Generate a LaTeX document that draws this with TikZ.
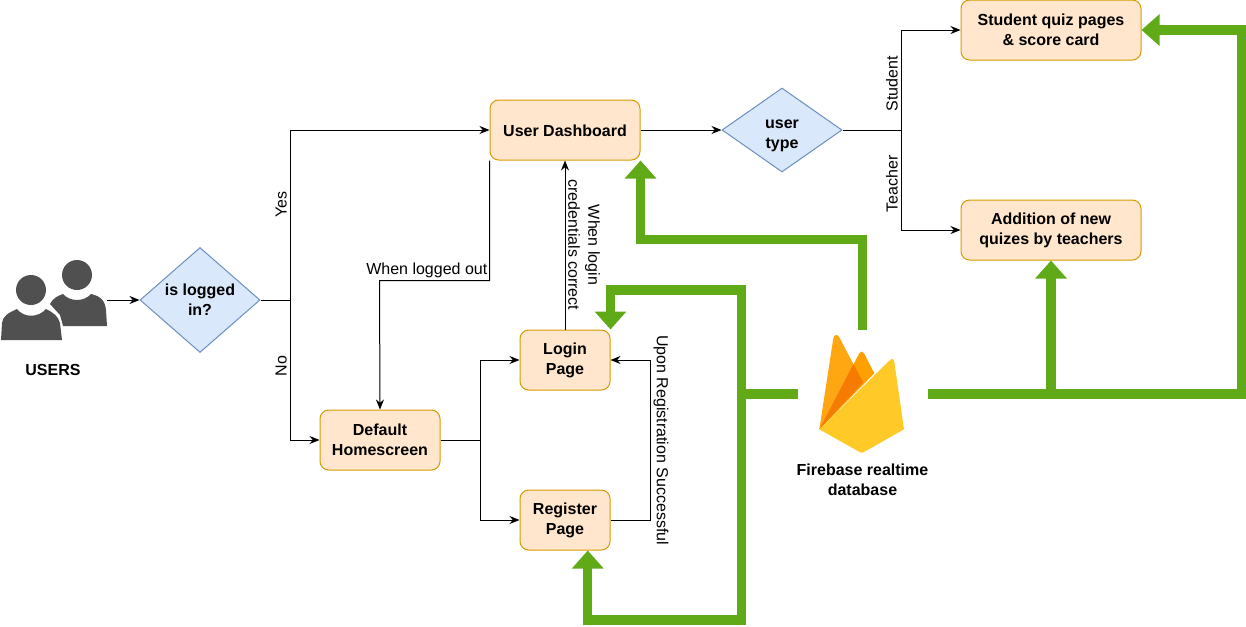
\documentclass[tikz,border=0pt]{standalone}
\usepackage{fontspec}
\setmainfont{Liberation Sans}
\usetikzlibrary{positioning, calc, shapes.geometric, arrows.meta}

\definecolor{boxfill}{HTML}{FFE6CC}
\definecolor{boxline}{HTML}{D79B00}
\definecolor{diafill}{HTML}{DAE8FC}
\definecolor{dialine}{HTML}{6C8EBF}
\definecolor{dbgreen}{HTML}{60A917}
\definecolor{usergray}{HTML}{505050}
\definecolor{flameleft}{HTML}{FFA712}
\definecolor{flamemid}{HTML}{FFA000}
\definecolor{flamedark}{HTML}{F57C00}
\definecolor{flamefront}{HTML}{FFCA28}

\tikzset{
	evenlines/.style={execute at begin node={\rule{0pt}{10.5pt}}},
	pagebox/.style={evenlines, draw=boxline, fill=boxfill, rounded corners=6.5pt, line width=.75pt, inner sep=0pt, minimum height=45pt, align=center, font=\fontsize{12}{15}\selectfont\bfseries},
	decision/.style={evenlines, diamond, draw=dialine, fill=diafill, line width=.75pt, inner sep=0pt, minimum width=90pt, align=center, font=\fontsize{12}{15}\selectfont\bfseries},
	caption/.style={evenlines, inner sep=0pt, align=center, font=\fontsize{12}{15}\selectfont\bfseries},
	flowtext/.style={inner sep=2pt, align=center, anchor=south, font=\fontsize{12}{15}\selectfont},
	flow/.style={-{Stealth[length=7.5pt, width=6pt]}},
	dbarrow/.style={draw=dbgreen, line width=7pt, -{Triangle[width=23pt, length=13.5pt]}},
	dbline/.style={draw=dbgreen, line width=7pt}
}

\begin{document}
\begin{tikzpicture}[on grid, x=.75pt, y=-.75pt, line width=.75pt]
	\useasboundingbox (0,0) rectangle (1246,626);

	\node[decision, minimum height=78.75pt]		(isLogged) at (200,300) 	{is logged\\in?};
	\node[minimum width=80.25pt, minimum height=60pt, inner sep=0pt]	(users) [left=110.25pt of isLogged] 	{};
	\node[caption]								(usersText) [below=51.75pt of users] 	{USERS};
	\node[pagebox, minimum width=90pt]			(Default) [below right=105pt and 135pt of isLogged] 	{Default\\Homescreen};
	\node[pagebox, minimum width=112.5pt]		(Dashboard) [above right=127.5pt and 273.75pt of isLogged] 	{User Dashboard};
	\node[pagebox, minimum width=67.5pt]		(Login) [below=172.5pt of Dashboard] 	{Login\\Page};
	\node[pagebox, minimum width=67.5pt]		(Register) [below=120pt of Login] 	{Register\\Page};
	\node[decision, minimum height=63pt]		(userType) [right=162.75pt of Dashboard] 	{\rule{0pt}{15pt}user\\type};
	\node[pagebox, minimum width=135pt]			(Student) [above right=75pt and 201.75pt of userType] 	{Student quiz pages\\\& score card};
	\node[pagebox, minimum width=135pt]			(Addition) [below=150pt of Student] 	{Addition of new\\quizes by teachers};
	\node[minimum width=96.75pt, minimum height=96pt, inner sep=0pt]	(fb) [below right=25.5pt and 223.125pt of Login] 	{};
	\node[caption]								(fbText) [below=64.5pt of fb] 	{Firebase realtime\\database};

	%users icon
	\fill[usergray] (77,275) circle (15);
	\fill[usergray] (50,304) .. controls (54,297) and (58,296) .. (63,294) .. controls (70,302) and (84,302) .. (91,294) .. controls (100,296) and (105,300) .. (106,310) -- (107,326) -- (63,326) -- (60,315) -- cycle;
	\draw[white, line width=3pt] (2,323) .. controls (3,316) and (8,313) .. (17,309) .. controls (24,318) and (38,318) .. (46,309) .. controls (54,313) and (58,316) .. (60,323) -- (62,340);
	\fill[usergray] (1,340) -- (2,323) .. controls (3,316) and (8,313) .. (17,309) .. controls (24,318) and (38,318) .. (46,309) .. controls (54,313) and (58,316) .. (60,323) -- (62,340) -- cycle;
	\fill[usergray] (31,290) circle (15);

	%firebase flame
	\fill[flameleft] (819.3,429.3) -- (833.3,338.3) .. controls (834,334) and (838,334) .. (839.3,337.3) -- (853.3,364) -- cycle;
	\fill[flamemid] (819.3,429.3) -- (859.3,353.3) .. controls (860.5,351) and (863,351) .. (864,353.3) -- (874.3,373.3) -- cycle;
	\fill[flamedark] (819.3,429.3) -- (853.3,364) -- (863.3,382.3) -- cycle;
	\fill[flamefront] (819.3,429.3) -- (890,360) .. controls (892,358) and (894,359) .. (894.3,362) -- (904,429.3) -- (864,452) .. controls (862.5,453) and (861,453) .. (859.5,452) -- cycle;

	%flow connectors
	\draw[flow] (users.east) -- (isLogged.west);
	\coordinate[right=67.5pt of isLogged] (logJoin);
	\draw (isLogged.east) -- (logJoin);
	\draw[flow] (logJoin) |- node[flowtext, pos=.28, rotate=90] {Yes} (Dashboard.west);
	\draw[flow] (logJoin) |- node[flowtext, pos=.236, rotate=90] {No} (Default.west);
	\draw[flow] (Dashboard.south west) -- ++(0,120) -- node[flowtext, pos=.57] {When logged out} ++(-110,0) -- (Default.north);
	\coordinate[right=75pt of Default] (splitJoin);
	\draw (Default.east) -- (splitJoin);
	\draw[flow] (splitJoin) |- (Login.west);
	\draw[flow] (splitJoin) |- (Register.west);
	\draw[flow] (Login.north) -- node[flowtext, rotate=-90] {When login\\credentials correct} (Dashboard.south);
	\draw[flow] (Register.east) -- ++(40,0) -- node[flowtext, rotate=-90] {Upon Registration Successful} ++(0,-160) -- (Login.east);
	\draw[flow] (Dashboard.east) -- (userType.west);
	\coordinate[right=89.25pt of userType] (typeJoin);
	\draw (userType.east) -- (typeJoin);
	\draw[flow] (typeJoin) |- node[flowtext, pos=.23, rotate=90] {Student} (Student.west);
	\draw[flow] (typeJoin) |- node[flowtext, pos=.27, rotate=90] {Teacher} (Addition.west);

	%database connectors
	\coordinate[left=91pt of fb] (dbLeft);
	\coordinate (dbRight) at (1051,394);
	\draw[dbline] (fb.west) -- (dbLeft);
	\draw[dbarrow] (fb.north) -- ++(0,-90) -| (Dashboard.south east);
	\draw[dbarrow] (dbLeft) -- ++(0,-104) -| (Login.north east);
	\draw[dbarrow] (dbLeft) -- ++(0,226) -| ($(Register.south)!.5!(Register.south east)$);
	\draw[dbarrow] (fb.east) -- ++(314,0) |- (Student.east);
	\draw[dbarrow] (dbRight) -- (Addition.south);
\end{tikzpicture}
\end{document}
